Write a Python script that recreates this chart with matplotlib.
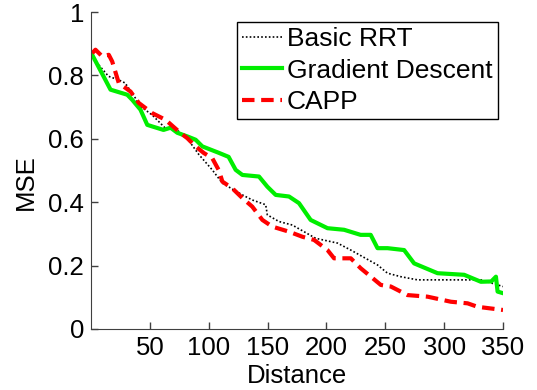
import matplotlib
matplotlib.use('Agg')
import matplotlib.pyplot as plt

plt.rcParams['font.family'] = ['Liberation Sans', 'DejaVu Sans']

# Basic RRT
rrt_x = [2, 6.4, 14.9, 23.4, 29, 37.6, 40.4, 52, 63, 68.7, 73, 82, 91.7, 103,
         111.6, 128.6, 137, 148.4, 149.8, 159.7, 171, 190.9, 209.4, 220.7,
         243.4, 251.9, 263.2, 277.4, 331.2, 350]
rrt_y = [0.85, 0.834, 0.797, 0.786, 0.776, 0.729, 0.707, 0.675, 0.634, 0.634,
         0.628, 0.60, 0.55, 0.502, 0.46, 0.423, 0.407, 0.392, 0.36, 0.339,
         0.328, 0.286, 0.271, 0.249, 0.202, 0.176, 0.165, 0.155, 0.155, 0.134]

# Gradient Descent
gd_x = [1, 16.6, 30.8, 35, 42, 47.8, 52, 61.6, 67.6, 73.3, 82.9, 88.9, 94.6,
        108.4, 116.9, 122.9, 128.6, 142.7, 149.8, 156.9, 168.2, 176.7, 186.6,
        200.9, 215, 229, 237.6, 243.4, 251.9, 266, 274.5, 294.4, 317, 331.2,
        340, 344, 345.4, 350]
gd_y = [0.865, 0.755, 0.739, 0.723, 0.692, 0.644, 0.639, 0.628, 0.635, 0.619,
        0.606, 0.597, 0.576, 0.556, 0.543, 0.502, 0.486, 0.481, 0.449, 0.423,
        0.418, 0.397, 0.344, 0.318, 0.313, 0.297, 0.297, 0.255, 0.255, 0.249,
        0.207, 0.176, 0.171, 0.149, 0.150, 0.165, 0.118, 0.113]

# CAPP
capp_x = [1, 3.8, 9.5, 15.1, 18, 23.6, 33.6, 40.6, 52, 63.3, 76.1, 81.8, 88.9,
          95.9, 103, 108.7, 111.6, 120, 128.6, 137, 145.6, 154, 168.2, 179.6,
          189.5, 200.9, 206.5, 220.7, 229, 246.2, 254.7, 268.9, 285.9, 305.7,
          319.9, 328.4, 350]
capp_y = [0.87, 0.881, 0.86, 0.865, 0.844, 0.776, 0.749, 0.713, 0.681, 0.66,
          0.618, 0.602, 0.576, 0.555, 0.539, 0.50, 0.465, 0.444, 0.413, 0.386,
          0.344, 0.323, 0.307, 0.291, 0.281, 0.249, 0.223, 0.223, 0.192, 0.139,
          0.134, 0.107, 0.102, 0.086, 0.081, 0.070, 0.060]

xticks = [50, 100, 150, 200, 250, 300, 350]
yticks = [0, 0.2, 0.4, 0.6, 0.8, 1]
ytick_labels = ['0', '0.2', '0.4', '0.6', '0.8', '1']

fs = 18.5
axc = '#404040'

fig = plt.figure(figsize=(5.37, 3.90), dpi=100)
ax = fig.add_axes([91/537, 1 - 329/390, 412/537, 317/390])

ax.plot(rrt_x, rrt_y, color='black', lw=1.2, linestyle=(0, (1, 1.3)), label='Basic RRT')
ax.plot(gd_x, gd_y, color='#00ee00', lw=3, label='Gradient Descent')
ax.plot(capp_x, capp_y, color='#ff0000', lw=3, linestyle=(0, (3, 1.6)), label='CAPP')

ax.set_xlim(0, 350)
ax.set_ylim(0, 1)
ax.set_xticks(xticks)
ax.set_yticks(yticks)
ax.set_yticklabels(ytick_labels)
ax.tick_params(direction='in', length=5, width=1, colors=axc, labelcolor='black',
               labelsize=fs, pad=5)
for s in ['top', 'right']:
    ax.spines[s].set_visible(False)
for s in ['left', 'bottom']:
    ax.spines[s].set_color(axc)

ax.set_xlabel('Distance', fontsize=fs, labelpad=3)
ax.set_ylabel('MSE', fontsize=fs)
ax.yaxis.set_label_coords(-0.129, 0.464)

leg = ax.legend(loc='upper right', bbox_to_anchor=(498/537, 1 - 22/390),
                bbox_transform=fig.transFigure, fontsize=19, frameon=True,
                fancybox=False, framealpha=1, edgecolor='black', borderpad=0.2,
                handlelength=1.5, handletextpad=0.2, labelspacing=0.28,
                borderaxespad=0)
leg.get_frame().set_linewidth(1)

fig.savefig('out.png', dpi=100)
